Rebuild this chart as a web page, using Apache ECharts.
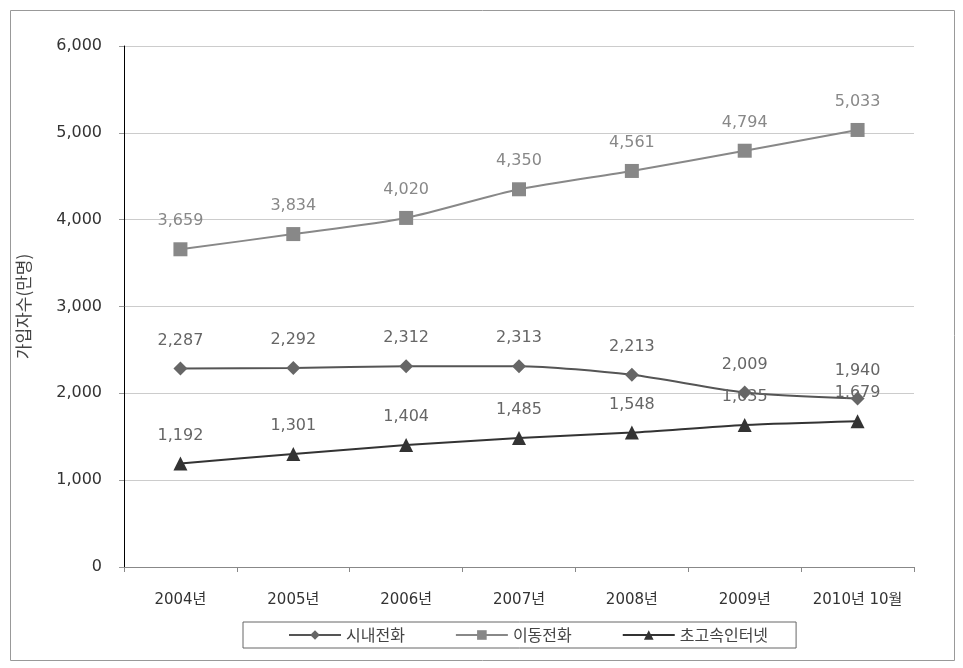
<!DOCTYPE html>
<html><head><meta charset="utf-8">
<script src="https://cdn.jsdelivr.net/npm/echarts@6/dist/echarts.min.js"></script>
<style>html,body{margin:0;padding:0;background:#fff}#c{width:963px;height:668px}</style>
</head><body><div id="c"></div>
<script>
const categories = ['2004년','2005년','2006년','2007년','2008년','2009년','2010년 10월'];
const localPhone = [2287,2292,2312,2313,2213,2009,1940];
const mobilePhone = [3659,3834,4020,4350,4561,4794,5033];
const broadband = [1192,1301,1404,1485,1548,1635,1679];
const seriesNames = ['시내전화','이동전화','초고속인터넷'];
const yTicks = {min:0,max:6000,interval:1000};

const font = '"DejaVu Sans", "Noto Sans CJK KR", sans-serif';
const chart = echarts.init(document.getElementById('c'));
const lbl = (color) => ({show:true,position:'top',distance:13,fontSize:16,color:color,fontFamily:font,
  formatter:p=>p.value.toLocaleString('en-US')});
chart.setOption({
  animation:false,
  textStyle:{fontFamily:font},
  graphic:[{type:'rect',shape:{x:10.5,y:10.5,width:944,height:650},style:{fill:'none',stroke:'#999',lineWidth:1}}],
  grid:{left:124,right:49,top:46,bottom:101,containLabel:false},
  legend:{left:243,top:622,itemGap:50,itemWidth:52,itemHeight:12,
    borderColor:'#666',borderWidth:1,padding:[5,28,5,45],
    textStyle:{fontSize:16,color:'#444',fontFamily:'"Noto Sans CJK KR", sans-serif'},data:seriesNames},
  xAxis:{type:'category',data:categories,boundaryGap:true,
    axisLine:{lineStyle:{color:'#888'}},
    axisTick:{show:true,length:5,lineStyle:{color:'#888'}},
    axisLabel:{interval:0,fontSize:15,color:'#333',margin:26,fontFamily:font}},
  yAxis:{type:'value',min:yTicks.min,max:yTicks.max,interval:yTicks.interval,
    name:'가입자수(만명)',nameLocation:'middle',nameGap:92,nameRotate:90,
    nameTextStyle:{fontSize:17,color:'#444',fontFamily:'"Noto Sans CJK KR", sans-serif'},
    axisLine:{show:true,lineStyle:{color:'#000'}},
    axisTick:{show:true,length:5,lineStyle:{color:'#999'}},
    splitLine:{lineStyle:{color:'#ccc'}},
    axisLabel:{fontSize:16,color:'#333',margin:22,fontFamily:font,formatter:v=>v.toLocaleString('en-US')}},
  series:[
    {name:seriesNames[0],type:'line',data:localPhone,smooth:0.25,symbol:'diamond',symbolSize:14,
     lineStyle:{color:'#555',width:2},itemStyle:{color:'#666'},label:lbl('#666')},
    {name:seriesNames[1],type:'line',data:mobilePhone,smooth:0.25,symbol:'rect',symbolSize:14,
     lineStyle:{color:'#888',width:2},itemStyle:{color:'#888'},label:lbl('#888')},
    {name:seriesNames[2],type:'line',data:broadband,smooth:0.25,symbol:'triangle',symbolSize:14,
     lineStyle:{color:'#333',width:2},itemStyle:{color:'#333'},label:lbl('#666')}
  ]
});
</script></body></html>
